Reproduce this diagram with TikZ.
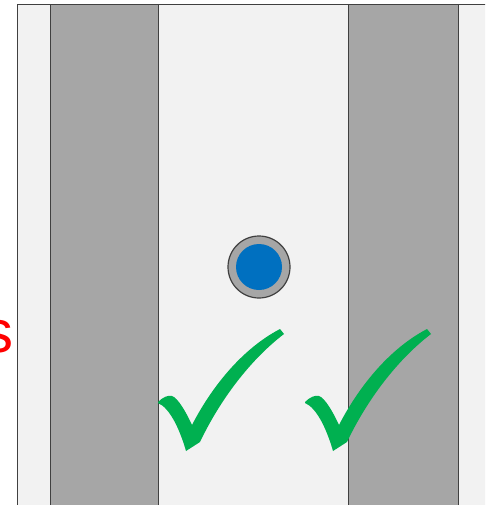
\documentclass[tikz,border=0pt]{standalone}
\usepackage{fontspec}
\newfontfamily\labelfont{Liberation Sans}
\definecolor{bgfill}{HTML}{F2F2F2}
\definecolor{bandfill}{HTML}{A6A6A6}
\definecolor{edge}{HTML}{404040}
\definecolor{dotblue}{HTML}{0070C0}
\definecolor{checkgreen}{HTML}{00B050}
\tikzset{
  panel/.style={fill=bgfill, draw=edge, line width=1pt},
  band/.style={fill=bandfill, draw=edge, line width=1pt},
  ring/.style={circle, fill=bandfill, draw=edge, line width=1.2pt, minimum size=62pt, inner sep=0pt},
  core/.style={circle, fill=dotblue, minimum size=46pt, inner sep=0pt},
  tick/.style={fill=checkgreen, draw=none},
}
\begin{document}
\begin{tikzpicture}[x=1pt,y=-1pt]
\useasboundingbox (0,0) rectangle (485,505);
\clip (0,0) rectangle (485,505);
% panel and bands
\draw[panel] (17,5) rectangle (495,515);
\draw[band] (50,5) rectangle (158,515);
\draw[band] (348,5) rectangle (458,515);
% pin
\node[ring] (pin) at (259,267) {};
\node[core] (pincore) at (pin.center) {};
% checks
\foreach \dx/\nm in {0/checkA,147/checkB}{
  \begin{scope}[shift={(\dx,0)}]
    \fill[tick] (158,402) .. controls (163,397) and (168,395) .. (172,396)
      .. controls (178,398) and (186,412) .. (192,425)
      .. controls (210,390) and (240,350) .. (280,329)
      -- (284,334)
      .. controls (250,360) and (220,400) .. (200,442)
      -- (186,451)
      .. controls (180,430) and (170,408) .. (158,403) -- cycle;
  \end{scope}
}
% label
\node[anchor=base, inner sep=0pt, text=red, font=\labelfont\fontsize{60}{60}\selectfont] (lbl) at (-1.5,352.5) {s};
\end{tikzpicture}
\end{document}
